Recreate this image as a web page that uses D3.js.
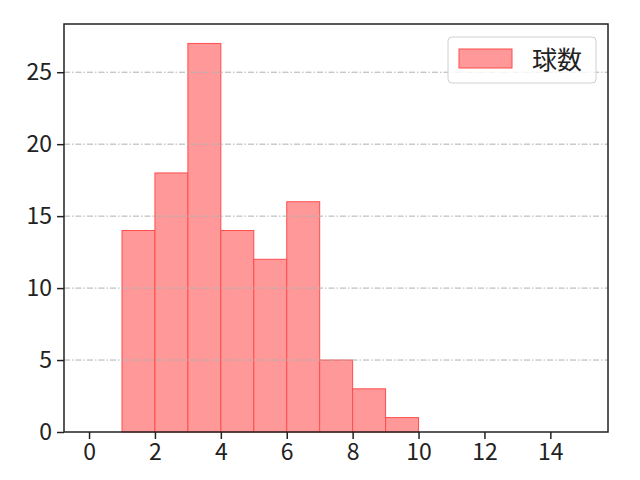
<!DOCTYPE html>
<html>
<head>
<meta charset="utf-8">
<script src="https://cdn.jsdelivr.net/npm/d3@7"></script>
<style>
  body { margin: 0; background: #fff; }
  text { font-family: "Noto Sans CJK JP", "Noto Sans", sans-serif; }
</style>
</head>
<body>
<div id="chart"></div>
<script>
// bins of the histogram (left edge, right edge) and the counts
var binStarts = [1, 2, 3, 4, 5, 6, 7, 8, 9];
var binWidth = 1;
var counts = [14, 18, 27, 14, 12, 16, 5, 3, 1];
var seriesName = "球数";
var xTicks = [0, 2, 4, 6, 8, 10, 12, 14];
var yTicks = [0, 5, 10, 15, 20, 25];

var svgwidth = 640, svgheight = 480;
var margin = { top: 24, right: 32, bottom: 48, left: 64 };
var width = svgwidth - margin.left - margin.right;
var height = svgheight - margin.top - margin.bottom;

var svg = d3.select("#chart").append("svg")
  .attr("width", svgwidth)
  .attr("height", svgheight);

var chartGroup = svg.append("g")
  .attr("transform", `translate(${margin.left}, ${margin.top})`);

var xscale = d3.scaleLinear().domain([-0.76, 15.75]).range([0, width]);
var yscale = d3.scaleLinear().domain([0, 28.35]).range([height, 0]);

// bars
chartGroup.selectAll("rect.bar")
  .data(binStarts)
  .enter()
  .append("rect")
  .attr("class", "bar")
  .attr("x", (d, i) => xscale(d))
  .attr("width", (d, i) => xscale(d + binWidth) - xscale(d))
  .attr("y", (d, i) => yscale(counts[i]))
  .attr("height", (d, i) => yscale(0) - yscale(counts[i]))
  .attr("fill", "#ff9999")
  .attr("stroke", "#ff4d4d")
  .attr("stroke-width", 1);

// horizontal grid, drawn on top of bars like the reference
chartGroup.selectAll("line.grid")
  .data(yTicks.filter(t => t > 0))
  .enter()
  .append("line")
  .attr("class", "grid")
  .attr("x1", 0).attr("x2", width)
  .attr("y1", d => yscale(d)).attr("y2", d => yscale(d))
  .attr("stroke", "#b0b0b0")
  .attr("stroke-width", 1)
  .attr("stroke-dasharray", "6,2,1.5,2");

// axes
var xaxis = d3.axisBottom(xscale).tickValues(xTicks).tickSize(7).tickPadding(5).tickFormat(d3.format("d"));
var yaxis = d3.axisLeft(yscale).tickValues(yTicks).tickSize(7).tickPadding(5).tickFormat(d3.format("d"));

var gx = chartGroup.append("g")
  .attr("transform", `translate(0, ${height})`)
  .call(xaxis);
var gy = chartGroup.append("g").call(yaxis);

[gx, gy].forEach(function(g) {
  g.select(".domain").remove();
  g.selectAll(".tick line").attr("stroke", "#222").attr("stroke-width", 1.5);
  g.selectAll(".tick text")
    .attr("fill", "#222")
    .attr("font-size", 23)
    .style("font-size", "23px");
});

// frame
chartGroup.append("rect")
  .attr("x", 0).attr("y", 0)
  .attr("width", width).attr("height", height)
  .attr("fill", "none")
  .attr("stroke", "#222")
  .attr("stroke-width", 1.5);

// legend
var legend = chartGroup.append("g")
  .attr("transform", `translate(${width - 160}, 13)`);
legend.append("rect")
  .attr("width", 148).attr("height", 46)
  .attr("rx", 4)
  .attr("fill", "#fff")
  .attr("fill-opacity", 0.8)
  .attr("stroke", "#d0d0d0");
legend.append("rect")
  .attr("x", 11).attr("y", 12)
  .attr("width", 53).attr("height", 19)
  .attr("fill", "#ff9999")
  .attr("stroke", "#ff4d4d");
legend.append("text")
  .attr("x", 84).attr("y", 32)
  .attr("fill", "#222")
  .style("font-size", "25px")
  .text(seriesName);
</script>
</body>
</html>
